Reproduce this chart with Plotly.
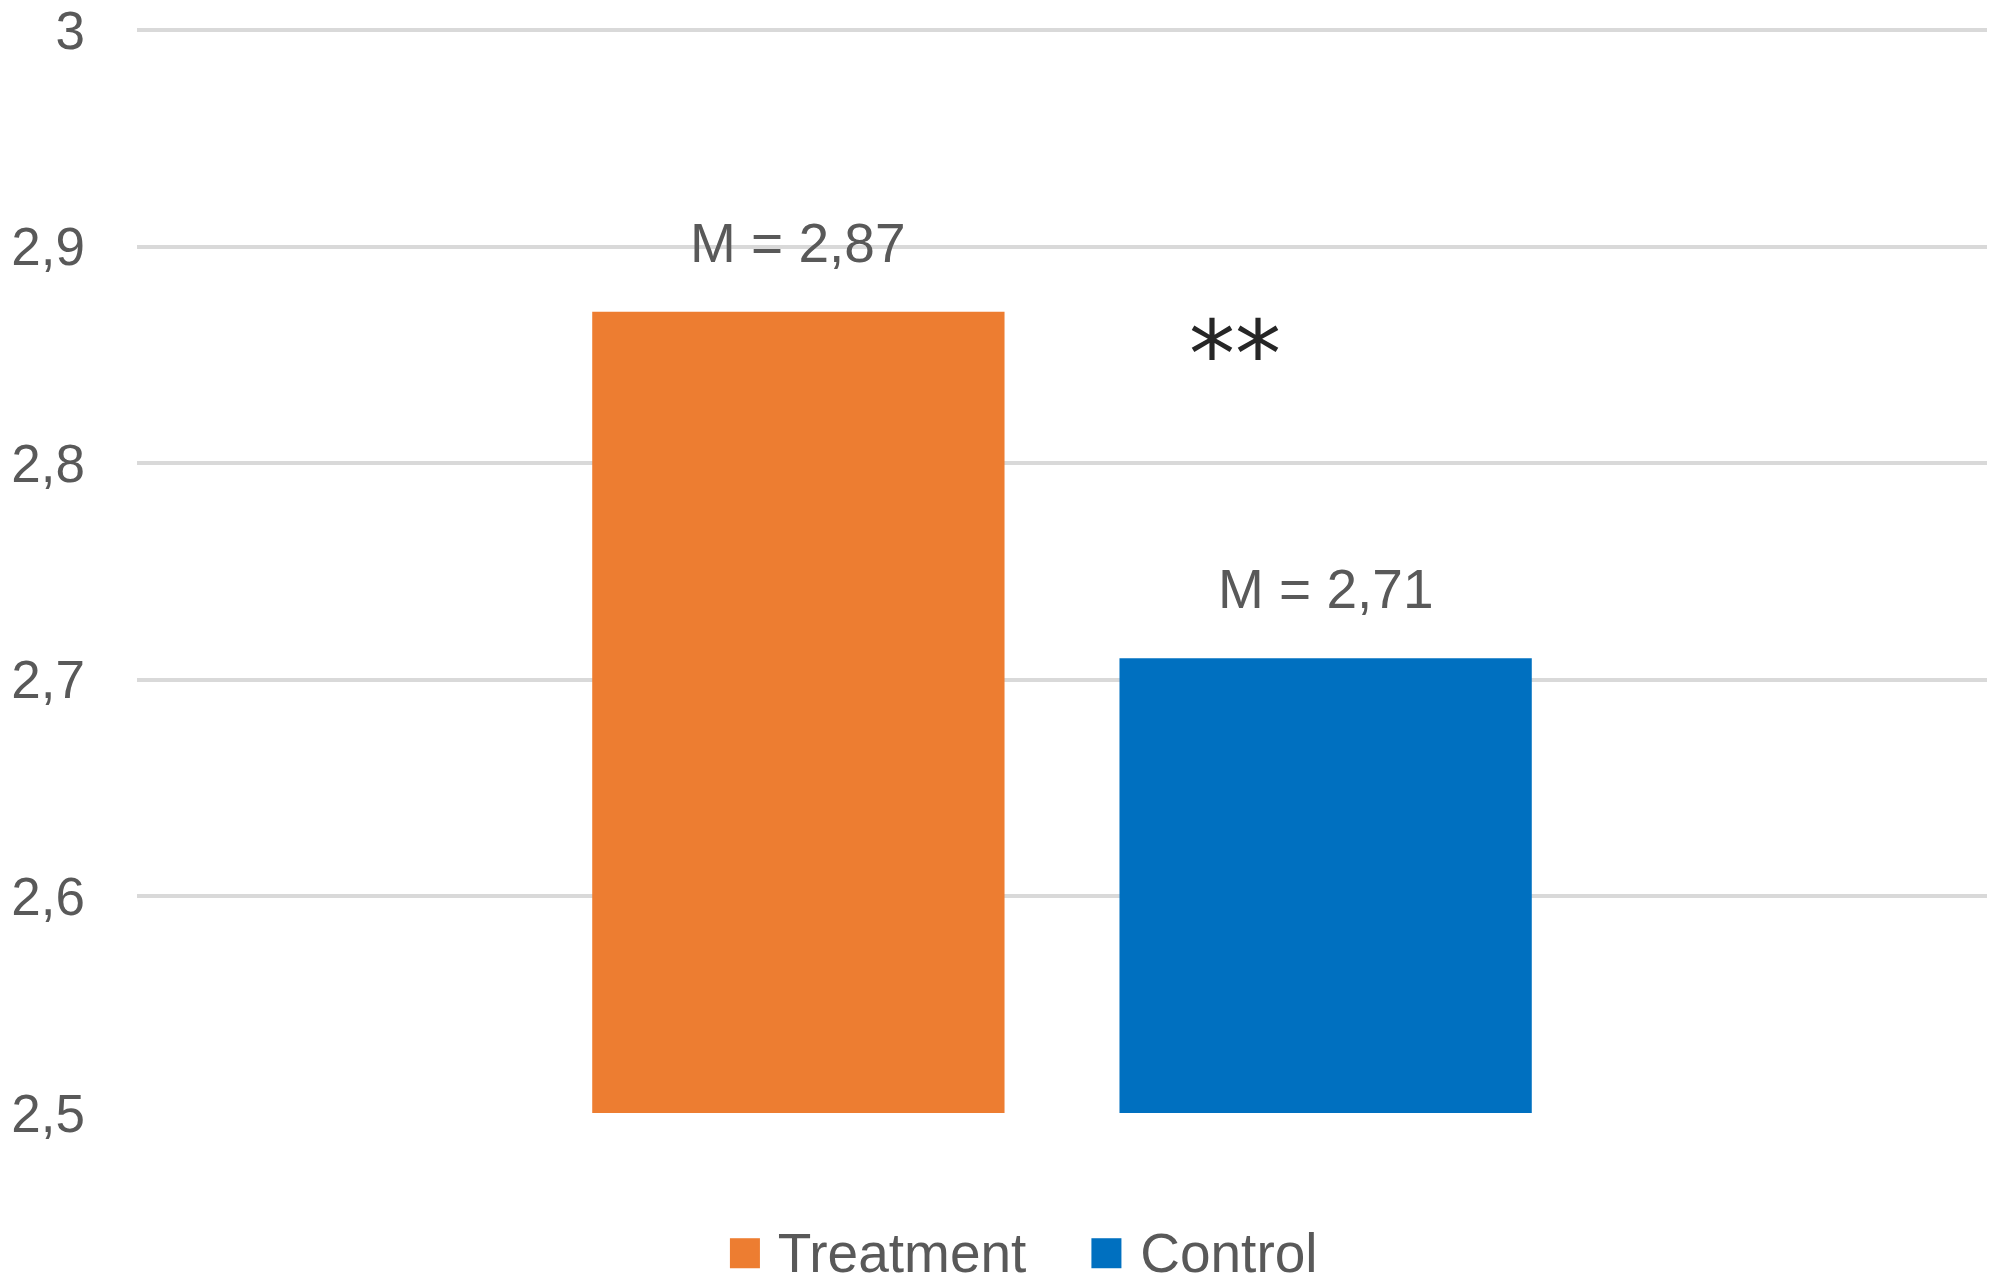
import plotly.graph_objects as go

# values
groups = ["Treatment", "Control"]
means = [2.87, 2.71]
labels = ["M = 2,87", "M = 2,71"]
colors = ["#ED7D31", "#0070C0"]
category = ["Mean"]
yticks = [2.5, 2.6, 2.7, 2.8, 2.9, 3.0]
sig_text = "**"

bargap = 0.43
bargroupgap = 0.218
font = "Liberation Sans, Arial, sans-serif"
grey = "#595959"

fig = go.Figure()
for name, m, c in zip(groups, means, colors):
    fig.add_trace(go.Bar(x=category, y=[m], name=name, marker=dict(color=c, line=dict(width=0))))

# centre of each bar slot within the category, from the gap settings
slot = (1 - bargap) / len(groups)
offsets = [-slot / 2, slot / 2]

for off, m, txt in zip(offsets, means, labels):
    fig.add_annotation(x=off, y=m, text=txt, showarrow=False, yanchor="bottom", yshift=36,
                       font=dict(family=font, size=55, color=grey))

# significance marker
fig.add_annotation(x=0.0935, y=2.85, text=sig_text, showarrow=False, yanchor="middle",
                   font=dict(family="DejaVu Sans", size=92, color="#262626"))

# legend drawn as text with big square keys, like the original
legend_text = "    ".join(
    f"<span style='color:{c};font-size:62px'>■</span> {g}" for g, c in zip(groups, colors)
)
fig.add_annotation(xref="paper", yref="paper", x=0.4785, y=-0.127, xanchor="center", yanchor="middle",
                   text=legend_text, showarrow=False, font=dict(family=font, size=55, color=grey))

# page body has an 8px margin, so the figure is 8px smaller and margins shifted
fig.update_layout(
    width=1987, height=1277,
    margin=dict(l=129, r=8, t=20, b=172),
    plot_bgcolor="white", paper_bgcolor="white",
    separators=",.",
    barmode="group", bargap=bargap, bargroupgap=bargroupgap,
    font=dict(family=font, color=grey),
    showlegend=False,
)
fig.update_xaxes(showticklabels=False, showgrid=False, showline=False, zeroline=False)
fig.update_yaxes(range=[2.5, 3.001], tickvals=yticks, showgrid=True, gridcolor="#D9D9D9", gridwidth=4,
                 zeroline=False, showline=False, ticks="", ticklabelstandoff=51, automargin=False,
                 ticklabeloverflow="allow", tickfont=dict(size=53, color=grey))

fig.write_html("out.html")
